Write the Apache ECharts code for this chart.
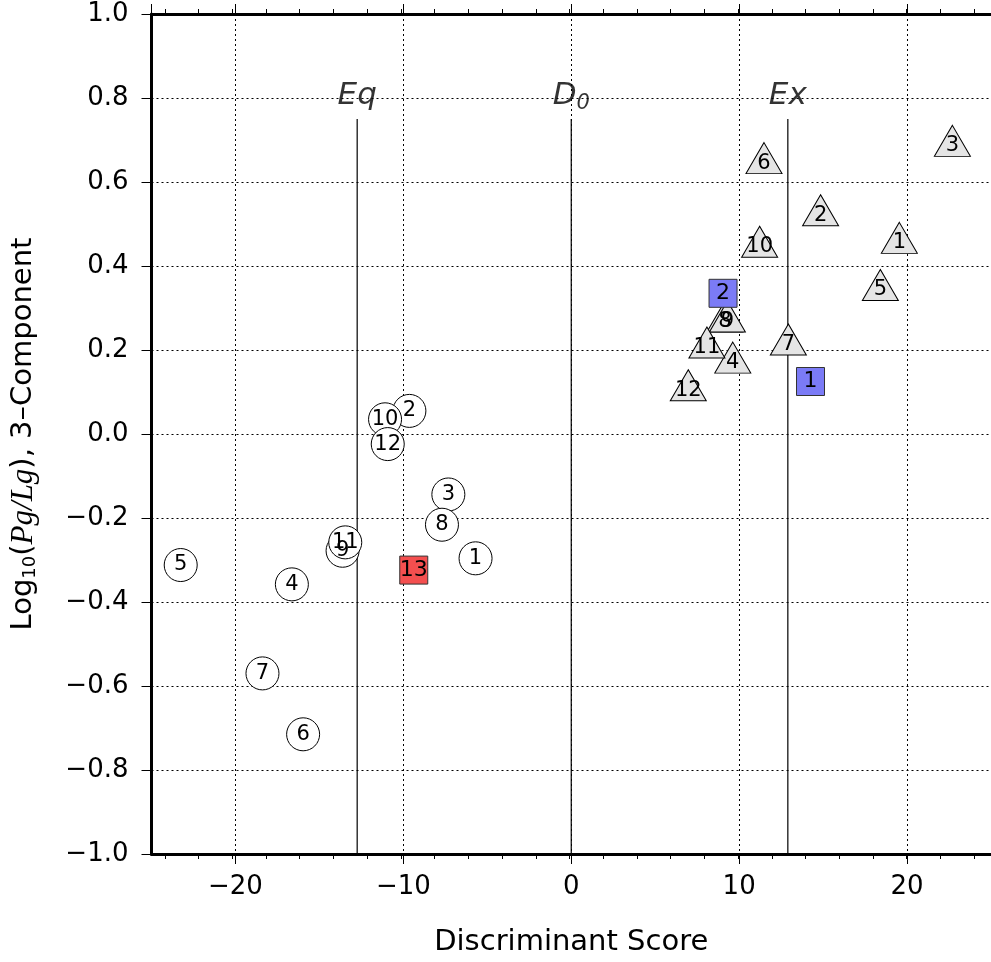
<!DOCTYPE html>
<html>
<head>
<meta charset="utf-8">
<script src="https://cdn.jsdelivr.net/npm/echarts@6/dist/echarts.min.js"></script>
<style>
  html, body { margin: 0; padding: 0; background: #fff; }
  #chart { width: 991px; height: 962px; }
</style>
</head>
<body>
<div id="chart"></div>
<script>
// earthquakes (circles)
const eqIds = [1, 2, 3, 4, 5, 6, 7, 8, 9, 10, 11, 12];
const eqX = [-5.70, -9.64, -7.32, -16.64, -23.26, -15.97, -18.39, -7.70, -13.62, -11.09, -13.46, -10.93];
const eqY = [-0.296, 0.055, -0.144, -0.358, -0.312, -0.715, -0.570, -0.216, -0.278, 0.035, -0.258, -0.024];

// explosions (triangles)
const exIds = [1, 2, 3, 4, 5, 6, 7, 8, 9, 10, 11, 12];
const exX = [19.54, 14.85, 22.70, 9.62, 18.41, 11.48, 12.93, 9.15, 9.30, 11.22, 8.08, 6.97];
const exY = [0.455, 0.521, 0.686, 0.170, 0.343, 0.645, 0.213, 0.268, 0.268, 0.446, 0.206, 0.104];

// blue squares
const blueIds = [1, 2];
const blueX = [14.25, 9.04];
const blueY = [0.125, 0.335];

// red square
const redIds = [13];
const redX = [-9.38];
const redY = [-0.324];

// discriminant lines
const lineNames = ['Eq', 'D0', 'Ex'];
const lineX = [-12.75, 0, 12.9];
const lineTop = 0.75;
const lineBottom = -1.0;
const lineLabelY = 0.805;

const FONT = 'DejaVu Sans';

const pts = (xs, ys, ids) => xs.map((x, i) => ({ value: [x, ys[i]], name: String(ids[i]) }));

const fmt = (v, digits) => {
    const s = Math.abs(v).toFixed(digits);
    return v < 0 ? '\u2212' + s : s;
};

const chart = echarts.init(document.getElementById('chart'));

const W = 991 - 148;
const unit = W / 50;

const markerLabel = (size) => ({
    show: true,
    position: 'inside',
    formatter: (p) => p.name,
    color: '#000',
    fontFamily: FONT,
    fontSize: size,
});

const tickAxis = (pos) => ({
    gridIndex: 1,
    type: 'value',
    position: pos,
    min: -24,
    max: 24,
    interval: 2,
    axisLine: { show: false, onZero: false },
    axisTick: { show: true, length: 5, lineStyle: { color: '#000', width: 1 } },
    axisLabel: { show: false },
    splitLine: { show: false },
});

const option = {
    animation: false,
    backgroundColor: '#fff',
    grid: [
        { left: 148, right: 0, top: 14, bottom: 108 },
        { left: 148 + unit, right: unit, top: 14, bottom: 108 },
    ],
    xAxis: [
        {
            gridIndex: 0,
            type: 'value',
            min: -25,
            max: 25,
            splitNumber: 5,
            name: 'Discriminant Score',
            nameLocation: 'middle',
            nameGap: 74,
            nameTextStyle: { fontFamily: FONT, fontSize: 29, color: '#000' },
            axisLine: { show: true, onZero: false, lineStyle: { color: '#000', width: 3 } },
            axisTick: { show: true, length: 10, lineStyle: { color: '#000', width: 1 } },
            axisLabel: {
                margin: 20,
                fontFamily: FONT,
                fontSize: 26,
                color: '#000',
                showMinLabel: false,
                showMaxLabel: false,
                formatter: (v) => fmt(v, 0),
            },
            splitLine: { show: true, lineStyle: { color: '#000', width: 1, type: [2, 3] } },
        },
        {
            gridIndex: 0,
            type: 'value',
            position: 'top',
            min: -25,
            max: 25,
            splitNumber: 5,
            axisLine: { show: true, onZero: false, lineStyle: { color: '#000', width: 3 } },
            axisTick: { show: true, length: 10, lineStyle: { color: '#000', width: 1 } },
            axisLabel: { show: false },
            splitLine: { show: false },
        },
        tickAxis('bottom'),
        tickAxis('top'),
    ],
    yAxis: [
        {
            gridIndex: 0,
            type: 'value',
            min: -1,
            max: 1,
            interval: 0.2,
            name: '{t|Log}{s|10}{t|(}{m|Pg/Lg}{t|), 3\u2013Component}',
            nameLocation: 'middle',
            nameRotate: 90,
            nameGap: 110,
            nameTextStyle: {
                rich: {
                    t: { fontFamily: FONT, fontSize: 29, color: '#000', lineHeight: 36, verticalAlign: 'middle' },
                    s: { fontFamily: FONT, fontSize: 18, color: '#000', lineHeight: 36, verticalAlign: 'bottom', padding: [0, 0, 2, 0] },
                    m: { fontFamily: 'Liberation Serif', fontStyle: 'italic', fontSize: 31, color: '#000', lineHeight: 36, verticalAlign: 'middle' },
                },
            },
            axisLine: { show: true, onZero: false, lineStyle: { color: '#000', width: 3 } },
            axisTick: { show: true, length: 10, lineStyle: { color: '#000', width: 1 } },
            axisLabel: {
                margin: 23,
                fontFamily: FONT,
                fontSize: 26,
                color: '#000',
                formatter: (v) => fmt(v, 1),
            },
            splitLine: { show: true, lineStyle: { color: '#000', width: 1, type: [2, 3] } },
        },
        {
            gridIndex: 1,
            type: 'value',
            min: -1,
            max: 1,
            show: false,
        },
    ],
    series: [
        ...lineX.map((x) => ({
            type: 'line',
            xAxisIndex: 0,
            yAxisIndex: 0,
            silent: true,
            symbol: 'none',
            lineStyle: { color: '#000', width: 1.2 },
            data: [[x, lineBottom], [x, lineTop]],
            z: 3,
        })),
        {
            type: 'scatter',
            silent: true,
            symbolSize: 0,
            data: lineX.map((x, i) => ({ value: [x, lineLabelY], name: lineNames[i] })),
            label: {
                show: true,
                position: 'inside',
                formatter: (p) => (p.name === 'D0' ? '{i|D}{s|0}' : '{i|' + p.name + '}'),
                rich: {
                    i: { fontFamily: FONT, fontStyle: 'italic', fontSize: 31, color: '#000', lineHeight: 36, verticalAlign: 'middle' },
                    s: { fontFamily: FONT, fontStyle: 'italic', fontSize: 21, color: '#000', lineHeight: 36, verticalAlign: 'bottom' },
                },
            },
            z: 4,
        },
        {
            type: 'scatter',
            silent: true,
            symbol: 'circle',
            symbolSize: 33,
            itemStyle: { color: '#fff', borderColor: '#000', borderWidth: 1, opacity: 1 },
            label: markerLabel(21),
            data: pts(eqX, eqY, eqIds),
            z: 5,
        },
        {
            type: 'scatter',
            silent: true,
            symbol: 'triangle',
            symbolSize: [36, 31],
            symbolOffset: [0, -5],
            itemStyle: { color: '#e5e5e5', borderColor: '#000', borderWidth: 1, opacity: 1 },
            label: Object.assign(markerLabel(21), { offset: [0, 5] }),
            data: pts(exX, exY, exIds),
            z: 5,
        },
        {
            type: 'scatter',
            silent: true,
            symbol: 'rect',
            symbolSize: 28,
            itemStyle: { color: '#7b7bf6', borderColor: '#333', borderWidth: 1, opacity: 1 },
            label: markerLabel(22),
            data: pts(blueX, blueY, blueIds),
            z: 6,
        },
        {
            type: 'scatter',
            silent: true,
            symbol: 'rect',
            symbolSize: 28,
            itemStyle: { color: '#f44f4f', borderColor: '#333', borderWidth: 1, opacity: 1 },
            label: markerLabel(22),
            data: pts(redX, redY, redIds),
            z: 6,
        },
    ],
};

chart.setOption(option);
</script>
</body>
</html>
